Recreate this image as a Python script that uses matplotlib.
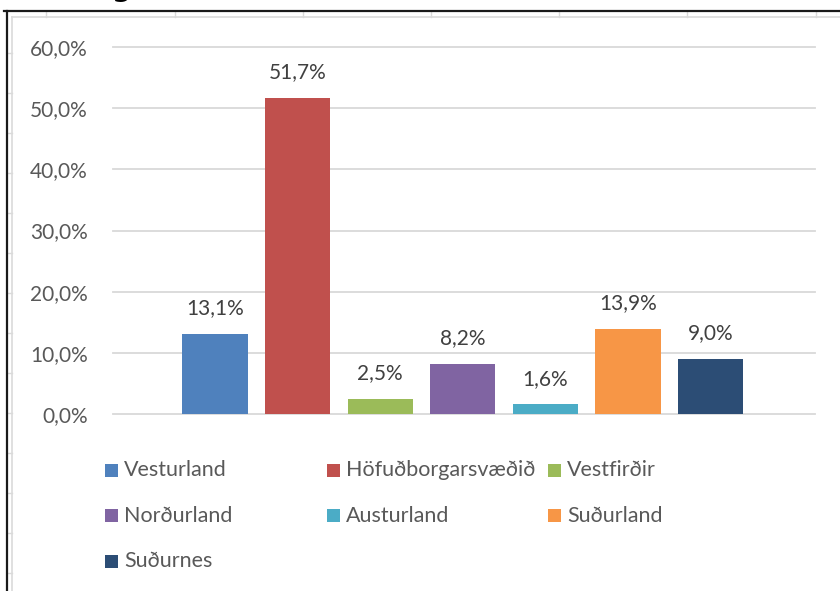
import matplotlib
matplotlib.use("Agg")
import matplotlib.pyplot as plt
from matplotlib.lines import Line2D
from matplotlib.patches import Rectangle

# share of respondents by region
regions = ["Vesturland", "Höfuðborgarsvæðið", "Vestfirðir", "Norðurland",
           "Austurland", "Suðurland", "Suðurnes"]
shares = [13.1, 51.7, 2.5, 8.2, 1.6, 13.9, 9.0]
colors = ["#4F81BD", "#C0504D", "#9BBB59", "#8064A2", "#4BACC6", "#F79646", "#2C4D75"]
y_ticks = [0, 10, 20, 30, 40, 50, 60]

W, H = 840, 591
plt.rcParams["font.family"] = ["Lato", "DejaVu Sans"]


def pct(v):
    return "{:.1f}%".format(v).replace(".", ",")


def fx(px):
    return px / W


def fy(py):
    return 1 - py / H


fig = plt.figure(figsize=(W / 100, H / 100), dpi=100)
fig.patch.set_facecolor("white")

# spreadsheet frame around the chart
grey = "#DADADA"
fig.add_artist(Line2D([fx(12), 1], [fy(17), fy(17)], color=grey, lw=1.2))
for x in [46, 175, 303, 431, 559, 687, 816]:
    fig.add_artist(Line2D([fx(x), fx(x)], [fy(12), fy(17)], color=grey, lw=1))
fig.add_artist(Line2D([fx(12), fx(12)], [fy(17), 0], color=grey, lw=1.2))
for y in range(53, H, 40):
    fig.add_artist(Line2D([fx(8), fx(12)], [fy(y), fy(y)], color=grey, lw=1))
fig.add_artist(Line2D([fx(4), 1], [fy(11), fy(11)], color="#1a1a1a", lw=1.6))
fig.add_artist(Line2D([fx(7), fx(7)], [fy(11), 0], color="#1a1a1a", lw=1.6))
fig.text(fx(112), fy(-4), "g", fontsize=20, fontweight="bold", color="black",
         family="DejaVu Sans", va="baseline")

ax = fig.add_axes([fx(113), fy(414), fx(815) - fx(113), fy(47) - fy(414)])
x = list(range(len(shares)))
ax.bar(x, shares, width=0.79, color=colors, zorder=3)
for i, v in enumerate(shares):
    ax.annotate(pct(v), (i, v), xytext=(0, 14), textcoords="offset points",
                ha="center", va="baseline", fontsize=15, color="#404040")

ax.set_xlim(-1.235, 7.264)
ax.set_ylim(0, 60)
ax.set_yticks(y_ticks)
ax.set_yticklabels([pct(t) for t in y_ticks])
ax.set_xticks([])
ax.tick_params(axis="y", length=0, pad=18, labelsize=15, labelcolor="#595959")
ax.yaxis.grid(True, color="#D9D9D9", linewidth=1.3)
for gl in ax.get_ygridlines():
    gl.set_clip_on(False)
ax.set_axisbelow(True)
for s in ax.spines.values():
    s.set_visible(False)

# legend laid out in three columns
for i, (name, c) in enumerate(zip(regions, colors)):
    row, col = divmod(i, 3)
    left = 105 + col * 221.5
    cy = 470 + row * 45.5
    fig.add_artist(Rectangle((fx(left), fy(cy + 6.5)), 13 / W, 13 / H,
                             transform=fig.transFigure, facecolor=c, edgecolor="none"))
    fig.text(fx(left + 19), fy(cy), name, fontsize=15.5, color="#595959",
             va="center", ha="left")

fig.savefig("out.png", dpi=100)
